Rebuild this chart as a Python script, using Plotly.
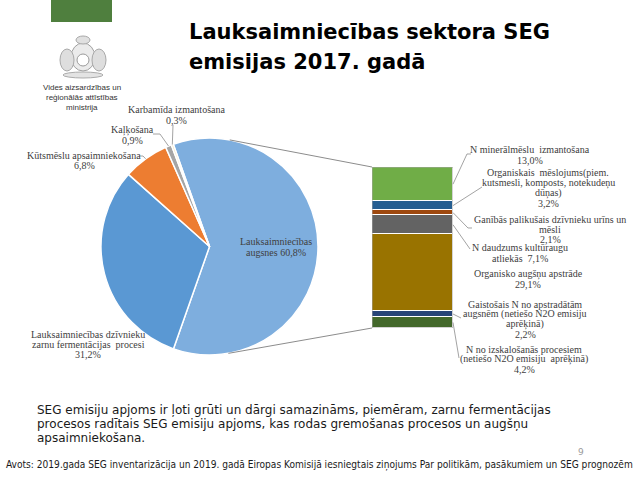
import math
import plotly.graph_objects as go

W, H = 638, 479

# --- data ---------------------------------------------------------------
pie_labels = ["Lauksaimniecības augsnes",
              "Lauksaimniecības dzīvnieku zarnu fermentācijas procesi",
              "Kūtsmēslu apsaimniekošana",
              "Kaļķošana",
              "Karbamīda izmantošana"]
pie_values = [60.8, 31.2, 6.8, 0.9, 0.3]

# bar of pie, listed bottom -> top
bar_labels = ["N no izskalošanās procesiem (netiešo N2O emisiju aprēķinā)",
              "Gaistošais N no apstradātām augsnēm (netiešo N2O emisiju aprēķinā)",
              "Organisko augšņu apstrāde",
              "N daudzums kultūraugu atliekās",
              "Ganībās palikušais dzīvnieku urīns un mēsli",
              "Organiskais mēslojums(piem. kutsmesli, komposts, notekudeņu dūņas)",
              "N minerālmēslu izmantošana"]
bar_values = [4.2, 2.2, 29.1, 7.1, 2.1, 3.2, 13.0]

# label text broken into lines ("{p}" = percentage)
pie_label_lines = [["Lauksaimniecības", "augsnes {p}"],
                   ["Lauksaimniecības dzīvnieku", "zarnu fermentācijas  procesi", "{p}"],
                   ["Kūtsmēslu apsaimniekošana", "{p}"],
                   ["Kaļķošana", "{p}"],
                   ["Karbamīda izmantošana", "{p}"]]
bar_label_lines = [["N no izskalošanās procesiem", "(netiešo N2O emisiju  aprēķinā)", "{p}"],
                   ["Gaistošais N no apstradātām", "augsnēm (netiešo N2O emisiju", "aprēķinā)", "{p}"],
                   ["Organisko augšņu apstrāde", "{p}"],
                   ["N daudzums kultūraugu", "atliekās  {p}"],
                   ["Ganībās palikušais dzīvnieku urīns un", "mēsli", "{p}"],
                   ["Organiskais  mēslojums(piem.", "kutsmesli, komposts, notekudeņu", "dūņas)", "{p}"],
                   ["N minerālmēslu  izmantošana", "{p}"]]

title_lines = ["Lauksaimniecības sektora SEG", "emisijas 2017. gadā"]
body_lines = ["SEG emisiju apjoms ir ļoti grūti un dārgi samazināms, piemēram, zarnu fermentācijas",
              "procesos radītais SEG emisiju apjoms, kas rodas gremošanas procesos un augšņu",
              "apsaimniekošana."]
source_text = ("Avots: 2019.gada SEG inventarizācija un 2019. gadā Eiropas Komisijā iesniegtais "
               "ziņojums Par politikām, pasākumiem un SEG prognozēm")
ministry_lines = ["Vides aizsardzības un", "reģionālās attīstības", "ministrija"]

# --- styles / layout ----------------------------------------------------
pie_colors = ["#7EAEDE", "#5A98D3", "#ED7D31", "#A5A5A5", "#F3E3B3"]
bar_colors = ["#43682B", "#264478", "#997300", "#636363", "#9E480E", "#255E91", "#70AD47"]

pie_cx, pie_cy, pie_r = 209.5, 246.5, 108.5
pie_rot = -19.5
bar_left, bar_right, bar_top, bar_bottom = 372, 453, 167, 328

pie_label_pos = [(276, 242), (88, 334), (84, 155), (132, 130), (176, 110)]
pie_leaders = [None, None, [(139, 156), (143, 156)], [(153, 134), (160, 134)], [(173, 125)]]
bar_label_pos = [(524, 349), (525, 304), (528, 274), (520, 248), (550, 219), (548, 173), (530, 150)]
bar_leaders = [[(459, 358)], [(461, 318)], None, [(470, 249)],
               [(472, 228), (468, 228)], [(482, 187)], [(471, 154), (467, 154)]]

lab_font = dict(family="Liberation Serif, Times New Roman, serif", size=10, color="#404040")
line_gap = 10.2


def px(x):
    return x / W


def py(y):
    return 1 - y / H


def pct(v):
    return f"{v:.1f}".replace(".", ",") + "%"


fig = go.Figure()

fig.add_trace(go.Pie(
    labels=pie_labels, values=pie_values, sort=False, direction="clockwise",
    rotation=pie_rot, textinfo="none", showlegend=False,
    marker=dict(colors=pie_colors, line=dict(color="white", width=1.5)),
    domain=dict(x=[px(pie_cx - pie_r), px(pie_cx + pie_r)],
                y=[py(pie_cy + pie_r), py(pie_cy - pie_r)]),
))

for lab, val, col in zip(bar_labels, bar_values, bar_colors):
    fig.add_trace(go.Bar(x=[0], y=[val], name=lab, width=1, showlegend=False,
                         marker=dict(color=col, line=dict(color="white", width=1.5))))

total = sum(bar_values)
shapes = []
annotations = []

# outline of the bar
shapes.append(dict(type="rect", xref="x", yref="y", x0=-0.5, x1=0.5, y0=0, y1=total,
                   line=dict(color="#A6A6A6", width=1), layer="above"))


# connector lines: tangents from bar corners to the pie
def tangent(x, y, upper):
    d = math.hypot(x - pie_cx, y - pie_cy)
    base = math.atan2(y - pie_cy, x - pie_cx)
    a = math.acos(pie_r / d)
    ang = base - a if upper else base + a
    return pie_cx + pie_r * math.cos(ang), pie_cy + pie_r * math.sin(ang)


for corner_y, upper in [(bar_top, True), (bar_bottom, False)]:
    tx, ty = tangent(bar_left, corner_y, upper)
    shapes.append(dict(type="line", xref="paper", yref="paper",
                       x0=px(tx), y0=py(ty), x1=px(bar_left), y1=py(corner_y),
                       line=dict(color="#8C8C8C", width=1)))


def add_text(t, x, y, font, xanchor="center"):
    annotations.append(dict(text=t, x=px(x), y=py(y), xref="paper", yref="paper",
                            showarrow=False, xanchor=xanchor, yanchor="middle", font=font))


def add_lines(lines, cx, y0, font, val):
    for i, t in enumerate(lines):
        add_text(t.replace("{p}", pct(val)), cx, y0 + i * line_gap, font)


def add_path(points):
    d = "M " + " L ".join(f"{px(x):.5f},{py(y):.5f}" for x, y in points)
    shapes.append(dict(type="path", xref="paper", yref="paper", path=d,
                       line=dict(color="#8C8C8C", width=0.8)))


# pie labels + leaders to slice mid-angles
ang = pie_rot
for val, lines, pos, lead in zip(pie_values, pie_label_lines, pie_label_pos, pie_leaders):
    span = val / sum(pie_values) * 360
    mid = math.radians(ang + span / 2)
    ang += span
    add_lines(lines, pos[0], pos[1], lab_font, val)
    if lead:
        ex = pie_cx + pie_r * math.sin(mid)
        ey = pie_cy - pie_r * math.cos(mid)
        add_path(lead + [(ex, ey)])

# bar labels + leaders to segment middles
cum = 0
for val, lines, pos, lead in zip(bar_values, bar_label_lines, bar_label_pos, bar_leaders):
    mid_y = bar_bottom - (cum + val / 2) / total * (bar_bottom - bar_top)
    cum += val
    add_lines(lines, pos[0], pos[1], lab_font, val)
    if lead:
        add_path([(bar_right, mid_y)] + lead[::-1])

# title
for i, t in enumerate(title_lines):
    add_text(f"<b>{t}</b>", 187, 32 + i * 30,
             dict(family="Verdana, DejaVu Sans", size=21, color="black"), "left")

# body text
for i, t in enumerate(body_lines):
    add_text(t, 35, 410 + i * 14, dict(family="Verdana, DejaVu Sans", size=12, color="#1a1a1a"), "left")

add_text("9", 581, 452, dict(family="DejaVu Sans", size=9, color="#9a9a9a"))
add_text(source_text, 319, 465,
         dict(family="Liberation Sans Narrow, Arial Narrow, DejaVu Sans Condensed", size=10.1,
              color="#1a1a1a"))

# ministry logo
shapes.append(dict(type="rect", xref="paper", yref="paper", x0=px(51), x1=px(112),
                   y0=py(22), y1=py(0), fillcolor="#4F7F3E", line=dict(width=0)))
emblem = [(83, 57, 12, 14, "#EBEBEB", "#A0A0A0"), (83, 60, 6, 6, "white", "#9A9A9A"),
          (67, 60, 7, 11, "#DEDEDE", "#A8A8A8"), (99, 60, 7, 11, "#DEDEDE", "#A8A8A8"),
          (83, 40, 7, 4, "#E0E0E0", "#A8A8A8"), (83, 75, 20, 3, "#E3E3E3", "#ABABAB")]
for ex, ey, rx, ry, fc, lc in emblem:
    shapes.append(dict(type="circle", xref="paper", yref="paper", x0=px(ex - rx), x1=px(ex + rx),
                       y0=py(ey + ry), y1=py(ey - ry), fillcolor=fc, line=dict(color=lc, width=1)))
for i, t in enumerate(ministry_lines):
    add_text(t, 82, 88 + i * 9.5, dict(family="Liberation Sans, Arial", size=8, color="#333333"))

fig.update_layout(
    width=W, height=H, margin=dict(l=0, r=0, t=0, b=0),
    paper_bgcolor="white", plot_bgcolor="white", barmode="stack", bargap=0,
    xaxis=dict(domain=[px(bar_left), px(bar_right)], range=[-0.5, 0.5], visible=False),
    yaxis=dict(domain=[py(bar_bottom), py(bar_top)], range=[0, total], visible=False),
    shapes=shapes, annotations=annotations,
)

fig.write_html("out.html", config={"displayModeBar": False},
               post_script="document.body.style.margin='0';")
